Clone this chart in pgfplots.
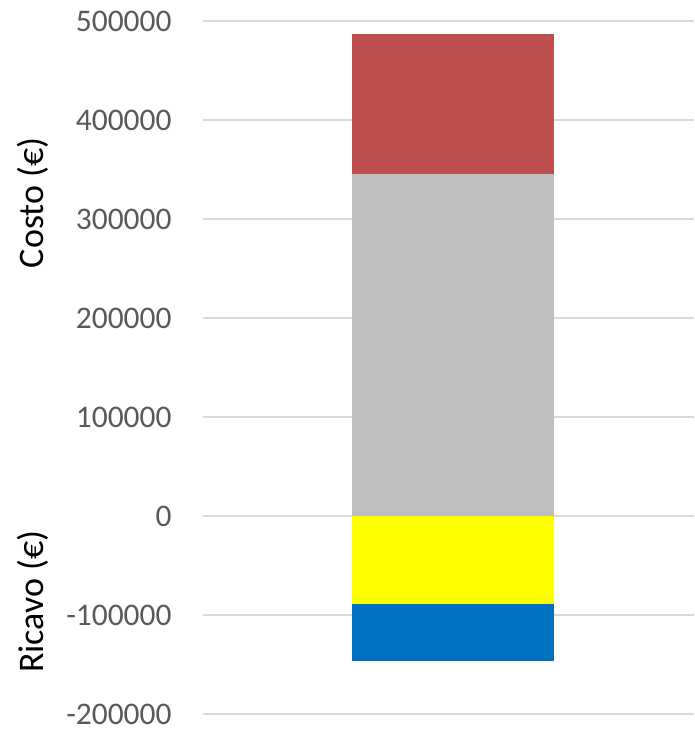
\documentclass[border=0pt]{standalone}
\usepackage{fontspec}
\setmainfont{Carlito}
\usepackage{pgfplots}
\pgfplotsset{compat=1.18}
\definecolor{cred}{HTML}{C0504F}
\definecolor{cgray}{HTML}{BFBFBF}
\definecolor{cyellow}{HTML}{FFFF00}
\definecolor{cblue}{HTML}{0070C0}
\definecolor{cgrid}{HTML}{D9D9D9}
\definecolor{ctick}{HTML}{595959}
\begin{document}
\begin{tikzpicture}
\pgfplotsset{base/.style={width=492bp,height=694bp,scale only axis,
  xmin=0,xmax=1,ymin=-200000,ymax=500000,bar width=202bp,ybar stacked,xtick=\empty}}
\begin{axis}[base, name=ax,
  axis line style={draw=none}, major tick length=0pt,
  ytick={-200000,-100000,0,100000,200000,300000,400000,500000},
  yticklabels={-200000,-100000,0,100000,200000,300000,400000,500000},
  ymajorgrids, grid style={draw=cgrid, line width=1.5bp},
  scaled y ticks=false,
  yticklabel style={font=\fontsize{31.5bp}{36bp}\selectfont, text=ctick, anchor=east, inner sep=0pt, xshift=-31bp}]
\addplot[fill=cgray, draw=none] coordinates {(0.51,345000)};
\addplot[fill=cred, draw=none] coordinates {(0.51,142000)};
\end{axis}
\begin{axis}[base, hide axis]
\addplot[fill=cyellow, draw=none] coordinates {(0.51,-89000)};
\addplot[fill=cblue, draw=none] coordinates {(0.51,-57000)};
\end{axis}
\node[rotate=90, anchor=base, font=\fontsize{36bp}{40bp}\selectfont] at ([xshift=-159bp, yshift=512bp]ax.south west) {Costo (€)};
\node[rotate=90, anchor=base, font=\fontsize{36bp}{40bp}\selectfont] at ([xshift=-159bp, yshift=112.5bp]ax.south west) {Ricavo (€)};
\path ([xshift=-203bp,yshift=-16bp]ax.south west) rectangle ([yshift=21bp]ax.north east);
\end{tikzpicture}
\end{document}
